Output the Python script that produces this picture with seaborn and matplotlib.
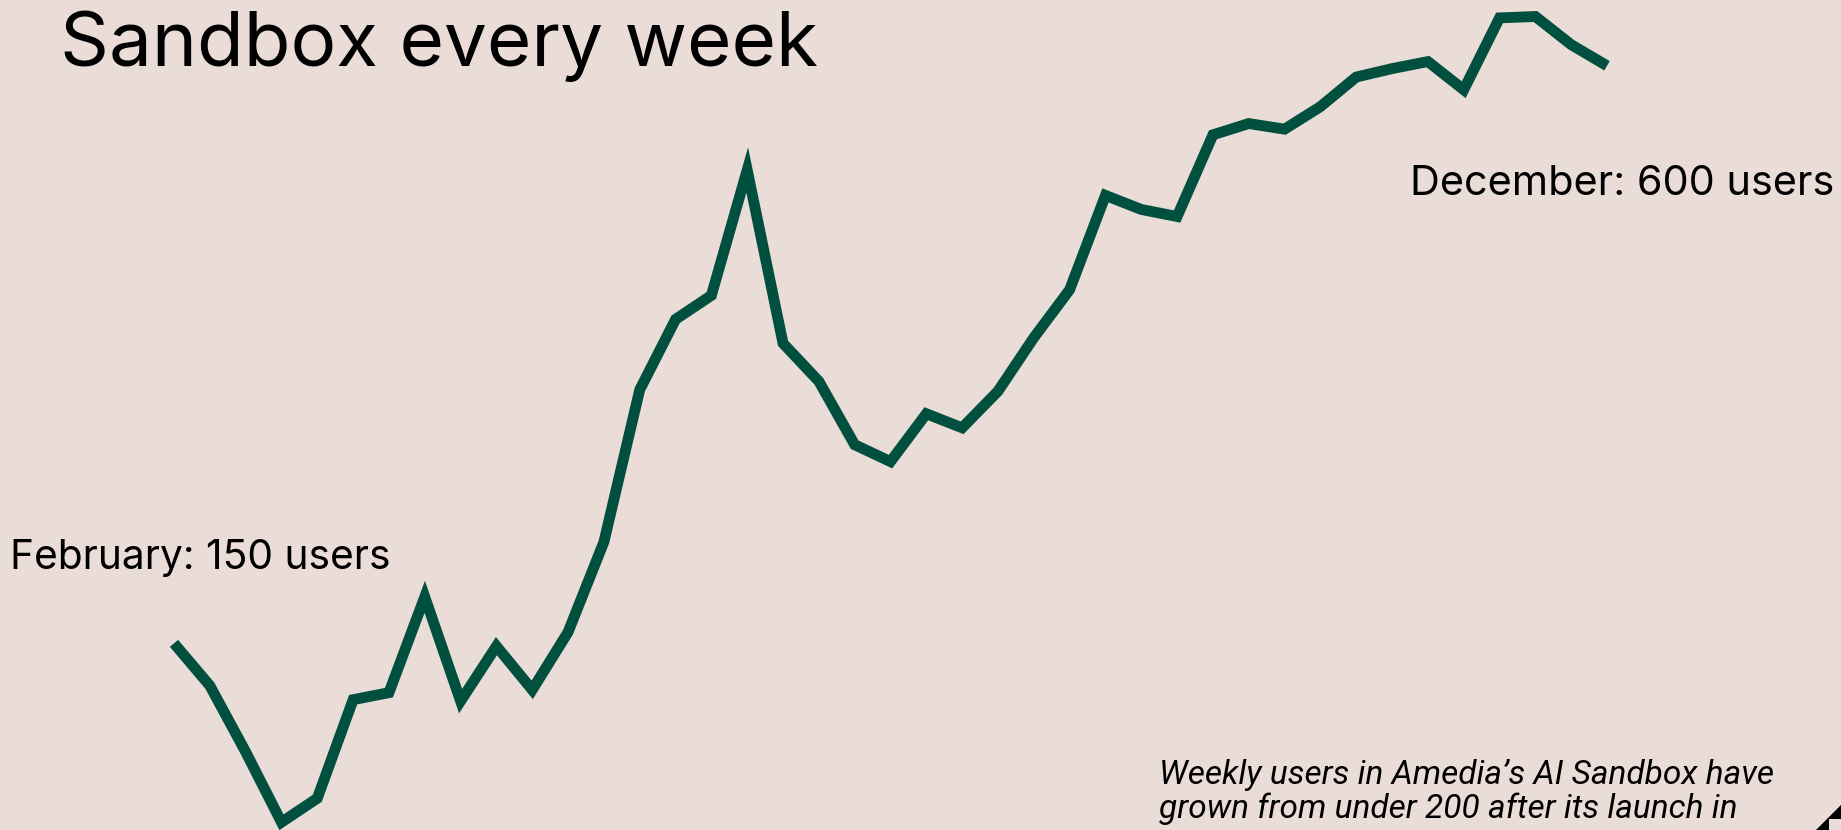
import matplotlib
matplotlib.use("Agg")
import matplotlib.pyplot as plt
import seaborn as sns
import pandas as pd
from matplotlib.patches import Polygon, Rectangle

# ---- data ----
weeks = list(range(1, 42))
users = [190, 160, 113, 63, 80, 150, 155, 223, 149, 188, 157, 198, 262, 370,
         420, 437, 526, 403, 376, 331, 319, 353, 343, 369, 407, 441, 508, 498,
         493, 551, 559, 555, 571, 592, 598, 603, 583, 634, 635, 615, 600]
title = "Sandbox every week"
start_label = "February: 150 users"
end_label = "December: 600 users"
caption_lines = ["Weekly users in Amedia\u2019s AI Sandbox have",
                 "grown from under 200 after its launch in"]

BG = "#EADCD7"
LINE = "#01503F"

sns.set_theme(style="white")
plt.rcParams["font.family"] = ["Inter", "DejaVu Sans"]

fig = plt.figure(figsize=(18.41, 8.30), dpi=100, facecolor=BG)
ax = fig.add_axes([0, 0, 1, 1])
ax.set_facecolor(BG)

df = pd.DataFrame({"week": weeks, "users": users})
sns.lineplot(data=df, x="week", y="users", ax=ax, color=LINE, linewidth=7.8)
for ln in ax.get_lines():
    ln.set_solid_joinstyle("miter")
    ln.set_solid_capstyle("butt")

ax.set_xlim(1 - 174 / 35.83, 41 + (1841 - 1607) / 35.83)
ax.set_ylim(57.5, 646.7)
ax.axis("off")

W, H = 1841, 830
def fx(px): return px / W
def fy(py): return 1 - py / H

fig.text(fx(60), fy(66), title, fontsize=55, color="black", ha="left", va="baseline")
fig.text(fx(10), fy(569), start_label, fontsize=29.3, color="black", ha="left", va="baseline")
fig.text(fx(1834), fy(195), end_label, fontsize=29.8, color="black", ha="right", va="baseline")
fig.text(fx(1159), fy(784), caption_lines[0], fontsize=24, style="italic",
         family=["Roboto", "DejaVu Sans"], color="black", ha="left", va="baseline")
fig.text(fx(1159), fy(818), caption_lines[1], fontsize=24, style="italic",
         family=["Roboto", "DejaVu Sans"], color="black", ha="left", va="baseline")

# corner decoration
tri = Polygon([(fx(1816), fy(830)), (fx(1841), fy(805)), (fx(1841), fy(830))],
              closed=True, transform=fig.transFigure, facecolor="black", edgecolor="none")
fig.patches.append(tri)
sq = Rectangle((fx(1829), fy(830)), fx(12), 11 / H, transform=fig.transFigure,
               facecolor=BG, edgecolor="none")
fig.patches.append(sq)

fig.savefig("out.png", dpi=100, facecolor=BG)
